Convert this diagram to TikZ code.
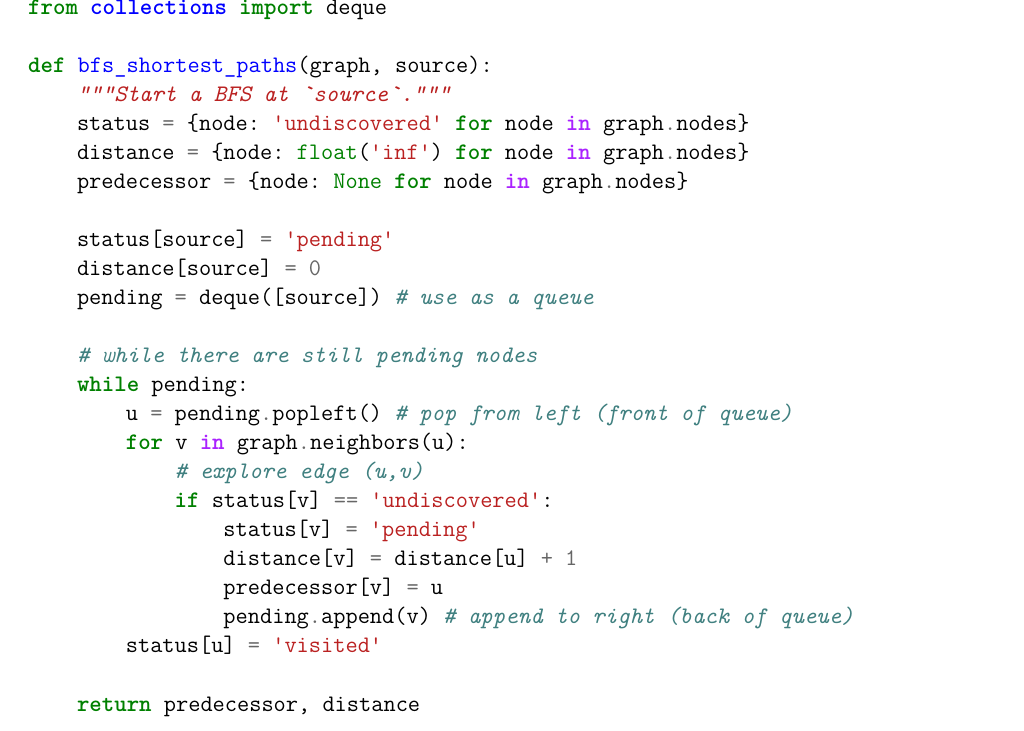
\documentclass[tikz,border=0pt]{standalone}
\usepackage{xcolor}
\definecolor{kwc}{RGB}{0,128,0}
\definecolor{fnc}{RGB}{0,0,255}
\definecolor{stc}{RGB}{186,33,33}
\definecolor{cmc}{RGB}{64,128,128}
\definecolor{owc}{RGB}{170,34,255}
\definecolor{opc}{RGB}{102,102,102}
\newcommand{\kw}[1]{\textcolor{kwc}{\bfseries #1}}
\newcommand{\bi}[1]{\textcolor{kwc}{#1}}
\newcommand{\fn}[1]{\textcolor{fnc}{#1}}
\newcommand{\nsp}[1]{\textcolor{fnc}{\bfseries #1}}
\newcommand{\st}[1]{\textcolor{stc}{#1}}
\newcommand{\cm}[1]{\textcolor{cmc}{\itshape #1}}
\newcommand{\ow}[1]{\textcolor{owc}{\bfseries #1}}
\newcommand{\op}[1]{\textcolor{opc}{#1}}
\newcommand{\numc}[1]{\textcolor{opc}{#1}}
\newcommand{\q}{\textquotesingle}
\frenchspacing
\begin{document}
\begin{tikzpicture}[x=1pt,y=1pt,
  ln/.style={anchor=base west,inner sep=0pt,font=\fontsize{23.7}{29}\ttfamily\frenchspacing}]
\useasboundingbox (0,0) rectangle (1024,730);
\def\Y#1{730-15-29*#1}
\node[ln] (l0) at (28,{\Y0}) {\kw{from} \nsp{collections} \kw{import} deque};
\node[ln] (l2) at (28,{\Y2}) {\kw{def} \fn{bfs\_shortest\_paths}(graph, source):};
\node[ln] (l3) at (28,{\Y3}) {\phantom{xxxx}\st{\itshape """Start a BFS at \textasciigrave source\textasciigrave."""}};
\node[ln] (l4) at (28,{\Y4}) {\phantom{xxxx}status \op{=} \{node: \st{\q undiscovered\q} \kw{for} node \ow{in} graph\op{.}nodes\}};
\node[ln] (l5) at (28,{\Y5}) {\phantom{xxxx}distance \op{=} \{node: \bi{float}(\st{\q inf\q}) \kw{for} node \ow{in} graph\op{.}nodes\}};
\node[ln] (l6) at (28,{\Y6}) {\phantom{xxxx}predecessor \op{=} \{node: \bi{None} \kw{for} node \ow{in} graph\op{.}nodes\}};
\node[ln] (l8) at (28,{\Y8}) {\phantom{xxxx}status[source] \op{=} \st{\q pending\q}};
\node[ln] (l9) at (28,{\Y9}) {\phantom{xxxx}distance[source] \op{=} \numc{0}};
\node[ln] (l10) at (28,{\Y10}) {\phantom{xxxx}pending \op{=} deque([source]) \cm{\# use as a queue}};
\node[ln] (l12) at (28,{\Y12}) {\phantom{xxxx}\cm{\# while there are still pending nodes}};
\node[ln] (l13) at (28,{\Y13}) {\phantom{xxxx}\kw{while} pending:};
\node[ln] (l14) at (28,{\Y14}) {\phantom{xxxxxxxx}u \op{=} pending\op{.}popleft() \cm{\# pop from left (front of queue)}};
\node[ln] (l15) at (28,{\Y15}) {\phantom{xxxxxxxx}\kw{for} v \ow{in} graph\op{.}neighbors(u):};
\node[ln] (l16) at (28,{\Y16}) {\phantom{xxxxxxxxxxxx}\cm{\# explore edge (u,v)}};
\node[ln] (l17) at (28,{\Y17}) {\phantom{xxxxxxxxxxxx}\kw{if} status[v] \op{==} \st{\q undiscovered\q}:};
\node[ln] (l18) at (28,{\Y18}) {\phantom{xxxxxxxxxxxxxxxx}status[v] \op{=} \st{\q pending\q}};
\node[ln] (l19) at (28,{\Y19}) {\phantom{xxxxxxxxxxxxxxxx}distance[v] \op{=} distance[u] \op{+} \numc{1}};
\node[ln] (l20) at (28,{\Y20}) {\phantom{xxxxxxxxxxxxxxxx}predecessor[v] \op{=} u};
\node[ln] (l21) at (28,{\Y21}) {\phantom{xxxxxxxxxxxxxxxx}pending\op{.}append(v) \cm{\# append to right (back of queue)}};
\node[ln] (l22) at (28,{\Y22}) {\phantom{xxxxxxxx}status[u] \op{=} \st{\q visited\q}};
\node[ln] (l24) at (28,{\Y24}) {\phantom{xxxx}\kw{return} predecessor, distance};
\end{tikzpicture}
\end{document}
